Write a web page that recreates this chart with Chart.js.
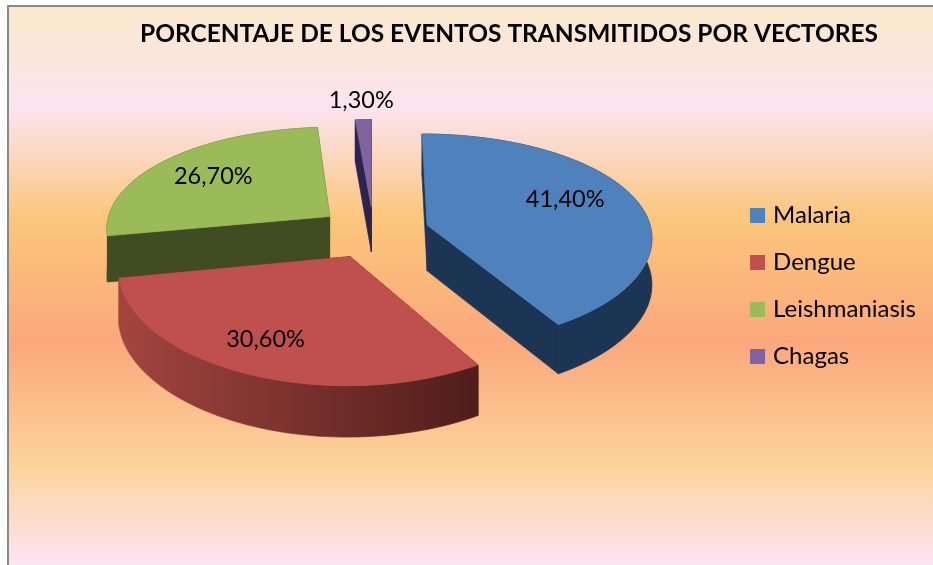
<!DOCTYPE html>
<html>
<head>
<meta charset="utf-8">
<script src="https://cdn.jsdelivr.net/npm/chart.js@4"></script>
<style>
  html, body { margin: 0; background: #fff; }
  #frame {
    position: absolute; left: 7px; top: 5px; width: 926px; height: 560px;
    box-sizing: border-box; border-left: 2px solid #8a8a8a; border-top: 2px solid #8a8a8a;
    background: linear-gradient(to bottom,
      #fae9cb 0, #fce4f1 18%, #fbc67b 38%, #fba87c 60%, #fdd39b 82%, #fce5f3 100%);
  }
  canvas { position: absolute; left: 0; top: 0; }
</style>
</head>
<body>
<div id="frame"></div>
<canvas id="chart" width="933" height="565"></canvas>
<script>
const chartTitle = "PORCENTAJE DE LOS EVENTOS TRANSMITIDOS POR VECTORES";
const categories = ["Malaria", "Dengue", "Leishmaniasis", "Chagas"];
const percentages = [41.4, 30.6, 26.7, 1.3];
const valueLabels = ["41,40%", "30,60%", "26,70%", "1,30%"];
const topColors = ["#4f81bd", "#c0504d", "#9bbb59", "#8064a2"];
const sideColors = ["#1c3554", "#4f1d1a", "#404c22", "#2e2350"];

// look of the fake 3d
const TILT = 0.467;       // flattening of the disc
const PERSPECTIVE_X = 0.105;
const PERSPECTIVE_Y = 0.1325;
const DEPTH = 46;
const LIFT = 54;          // disc sits above the centre of the chart area
const drawOrder = [2, 3, 0, 1]; // back to front
const labelNudge = [[8, -9], [-21, 14], [-13, -4], [-1, -7]];

function project(arc, u, v) {
  const r = arc.outerRadius;
  const wx = 1 / (1 - PERSPECTIVE_X * v / r);
  const w = 1 / (1 - PERSPECTIVE_Y * v / r);
  return { x: arc.x + u * wx, y: arc.y - LIFT + v * TILT * w, w };
}

function sliceOutline(arc) {
  const offset = arc.options.offset || 0;
  const mid = (arc.startAngle + arc.endAngle) / 2;
  const ox = Math.cos(mid) * offset;
  const oy = Math.sin(mid) * offset;
  const pts = [project(arc, ox, oy)];
  const steps = Math.ceil((arc.endAngle - arc.startAngle) / 0.03);
  for (let i = 0; i <= steps; i++) {
    const a = arc.startAngle + (arc.endAngle - arc.startAngle) * i / steps;
    pts.push(project(arc, ox + Math.cos(a) * arc.outerRadius, oy + Math.sin(a) * arc.outerRadius));
  }
  return pts;
}

function fillPoly(ctx, pts, color) {
  ctx.beginPath();
  pts.forEach((p, i) => (i ? ctx.lineTo(p.x, p.y) : ctx.moveTo(p.x, p.y)));
  ctx.closePath();
  ctx.fillStyle = color;
  ctx.strokeStyle = color;
  ctx.lineWidth = 0.7;
  ctx.fill();
  ctx.stroke();
}

// drop a run of top-face points down by the wall height
function wall(run) {
  const lower = run.map((p) => ({ x: p.x, y: p.y + DEPTH * (1 + (p.w - 1) * 0.6) })).reverse();
  return run.concat(lower);
}

function meanY(pts) {
  return pts.reduce((s, p) => s + p.y, 0) / pts.length;
}

const pie3d = {
  id: "pie3d",
  afterLayout(chart) {
    // title is centred over the plot + legend, not over the whole page
    chart.titleBlock.left = 140;
    chart.titleBlock.right = 878;
  },
  beforeDatasetDraw(chart) {
    const ctx = chart.ctx;
    const arcs = chart.getDatasetMeta(0).data;
    ctx.save();
    drawOrder.forEach((i) => {
      const pts = sliceOutline(arcs[i]);
      const n = pts.length;

      const shade = ctx.createLinearGradient(pts[n - 1].x, 0, pts[1].x, 0);
      shade.addColorStop(0, i === 1 ? "#a3453f" : sideColors[i]);
      shade.addColorStop(1, sideColors[i]);

      // walls furthest first
      const walls = [
        { pts: wall(pts.slice(1)), color: shade },
        { pts: wall([pts[0], pts[1]]), color: sideColors[i] },
        { pts: wall([pts[0], pts[n - 1]]), color: sideColors[i] },
      ].sort((a, b) => meanY(a.pts) - meanY(b.pts));
      walls.forEach((w) => fillPoly(ctx, w.pts, w.color));

      fillPoly(ctx, pts, topColors[i]);
    });
    ctx.restore();
    return false; // the flat arcs stay undrawn
  },
  afterDatasetsDraw(chart) {
    const ctx = chart.ctx;
    const arcs = chart.getDatasetMeta(0).data;
    ctx.save();
    ctx.font = "23.5px Lato";
    ctx.fillStyle = "#000";
    ctx.textAlign = "center";
    ctx.textBaseline = "middle";
    arcs.forEach((arc, i) => {
      const mid = (arc.startAngle + arc.endAngle) / 2;
      const offset = arc.options.offset;
      const dist = offset + arc.outerRadius * (i === 3 ? 1.16 : 0.62);
      const p = project(arc, Math.cos(mid) * dist, Math.sin(mid) * dist);
      ctx.fillText(valueLabels[i], p.x + labelNudge[i][0], p.y + labelNudge[i][1]);
    });
    ctx.restore();
  },
};

new Chart(document.getElementById("chart"), {
  type: "pie",
  data: {
    labels: categories,
    datasets: [{
      data: percentages,
      backgroundColor: topColors,
      borderWidth: 0,
      offset: 56,
    }],
  },
  options: {
    responsive: false,
    animation: false,
    radius: 224.5,
    layout: { padding: { bottom: 50, left: 16, right: 7 } },
    plugins: {
      title: {
        display: true,
        text: chartTitle,
        color: "#000",
        font: { family: "Lato", size: 25, weight: "bold" },
        padding: { top: 19, bottom: 8 },
      },
      legend: {
        position: "right",
        fullSize: false,
        labels: {
          color: "#000",
          font: { family: "Lato", size: 24 },
          usePointStyle: true,
          pointStyle: "rect",
          boxWidth: 7,
          boxHeight: 15,
          padding: 23,
        },
      },
      tooltip: { enabled: false },
    },
  },
  plugins: [pie3d],
});
</script>
</body>
</html>
